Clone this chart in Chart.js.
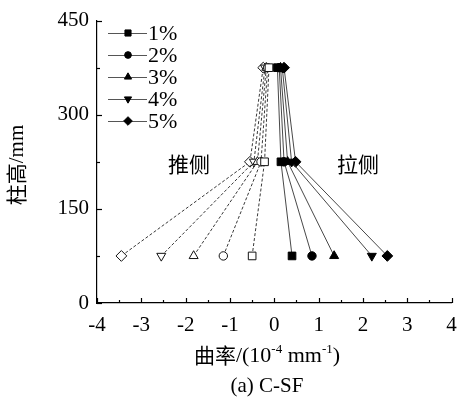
<!DOCTYPE html>
<html>
<head>
<meta charset="utf-8">
<script src="https://cdn.jsdelivr.net/npm/chart.js@4/dist/chart.umd.min.js"></script>
<style>
  html, body { margin: 0; padding: 0; background: #fff; }
  #wrap { width: 458px; height: 406px; position: relative; }
</style>
</head>
<body>
<div id="wrap"><canvas id="c" width="458" height="406"></canvas></div>
<script>
// Column heights (mm) at which curvature was measured
const heights = [75, 225, 375];

// Drift-ratio levels
const levels = ['1%', '2%', '3%', '4%', '5%'];

// Curvature on the pulled side (10^-4 mm^-1), ordered by height
const pull1 = [0.40, 0.15, 0.07];
const pull2 = [0.85, 0.22, 0.11];
const pull3 = [1.35, 0.30, 0.14];
const pull4 = [2.20, 0.39, 0.18];
const pull5 = [2.55, 0.48, 0.22];

// Curvature on the pushed side (10^-4 mm^-1), ordered by height
const push1 = [-0.50, -0.22, -0.12];
const push2 = [-1.15, -0.30, -0.15];
const push3 = [-1.82, -0.38, -0.18];
const push4 = [-2.55, -0.46, -0.21];
const push5 = [-3.45, -0.55, -0.25];

// Axis ticks
const xTicks = [-4, -3, -2, -1, 0, 1, 2, 3, 4];
const yTicks = [0, 150, 300, 450];

const pullSeries = [pull1, pull2, pull3, pull4, pull5];
const pushSeries = [push1, push2, push3, push4, push5];

const markerStyles = [
  { pointStyle: 'rect', radius: 5.4, rotation: 0 },
  { pointStyle: 'circle', radius: 4.2, rotation: 0 },
  { pointStyle: 'triangle', radius: 5.2, rotation: 0 },
  { pointStyle: 'triangle', radius: 5.2, rotation: 180 },
  { pointStyle: 'rectRot', radius: 5.4, rotation: 0 }
];

const SERIF = '"Liberation Serif", "Times New Roman", serif';
const CJK = '"Noto Sans CJK SC", sans-serif';

function toPoints(xs) {
  return xs.map((x, i) => ({ x: x, y: heights[i] }));
}

const datasets = [];
pushSeries.forEach((s, i) => {
  const m = markerStyles[i];
  datasets.push({
    label: levels[i] + ' push',
    data: toPoints(s),
    showLine: true,
    borderColor: '#222',
    borderWidth: 0.9,
    borderDash: [3, 2],
    pointStyle: m.pointStyle,
    pointRadius: m.radius,
    pointRotation: m.rotation,
    pointBackgroundColor: '#fff',
    pointBorderColor: '#111',
    pointBorderWidth: 1
  });
});
pullSeries.forEach((s, i) => {
  const m = markerStyles[i];
  datasets.push({
    label: levels[i],
    data: toPoints(s),
    showLine: true,
    borderColor: '#333',
    borderWidth: 0.9,
    pointStyle: m.pointStyle,
    pointRadius: m.radius,
    pointRotation: m.rotation,
    pointBackgroundColor: '#000',
    pointBorderColor: '#000',
    pointBorderWidth: 1
  });
});

// Inward major/minor ticks, legend, side labels and axis titles
const decorations = {
  id: 'decorations',
  afterDraw(chart) {
    const ctx = chart.ctx;
    const xs = chart.scales.x, ys = chart.scales.y;
    const area = chart.chartArea;
    ctx.save();
    ctx.strokeStyle = '#000';
    ctx.lineWidth = 1.2;
    // x ticks (major + minor), pointing up into the plot
    for (let v = -4; v <= 4.001; v += 0.5) {
      const px = Math.round(xs.getPixelForValue(v)) + 0.5;
      const len = Math.abs(v - Math.round(v)) < 1e-6 ? 5 : 3;
      ctx.beginPath();
      ctx.moveTo(px, area.bottom);
      ctx.lineTo(px, area.bottom - len);
      ctx.stroke();
    }
    // y ticks (major + minor), pointing right into the plot
    for (let v = 0; v <= 450.001; v += 75) {
      const py = Math.round(ys.getPixelForValue(v)) + 0.5;
      const len = (v % 150 === 0) ? 5 : 3;
      ctx.beginPath();
      ctx.moveTo(area.left, py);
      ctx.lineTo(area.left + len, py);
      ctx.stroke();
    }

    // Legend: line with centred marker, then label
    const lx0 = 108, lx1 = 147, mx = 128, tx = 148;
    const rows = [33, 55, 77, 99, 121];
    levels.forEach((lab, i) => {
      const y = rows[i];
      ctx.strokeStyle = '#555';
      ctx.lineWidth = 1;
      ctx.setLineDash([]);
      ctx.beginPath();
      ctx.moveTo(lx0, y + 0.5);
      ctx.lineTo(lx1, y + 0.5);
      ctx.stroke();
      const m = markerStyles[i];
      ctx.fillStyle = '#000';
      ctx.strokeStyle = '#000';
      Chart.helpers.drawPoint(ctx, {
        pointStyle: m.pointStyle, radius: m.radius * 0.8, rotation: m.rotation, borderWidth: 1
      }, mx, y);
      ctx.fillStyle = '#000';
      ctx.font = '22px ' + SERIF;
      ctx.textAlign = 'left';
      ctx.textBaseline = 'middle';
      ctx.fillText(lab, tx, y + 1);
    });

    // Side labels
    ctx.fillStyle = '#000';
    ctx.font = '21px ' + CJK;
    ctx.textAlign = 'center';
    ctx.textBaseline = 'middle';
    ctx.fillText('推侧', 189, 164);
    ctx.fillText('拉侧', 358, 164);

    // y-axis title (rotated)
    ctx.save();
    ctx.translate(16, 165);
    ctx.rotate(-Math.PI / 2);
    ctx.textAlign = 'left';
    const yt1 = '柱高', yt2 = '/mm';
    ctx.font = '21px ' + CJK;
    const w1 = ctx.measureText(yt1).width;
    ctx.font = '21px ' + SERIF;
    const w2 = ctx.measureText(yt2).width;
    let sx = -(w1 + w2) / 2;
    ctx.font = '21px ' + CJK;
    ctx.fillText(yt1, sx, 0);
    ctx.font = '21px ' + SERIF;
    ctx.fillText(yt2, sx + w1, 1);
    ctx.restore();

    // x-axis title with superscripts
    const parts = [
      { t: '曲率', f: '21px ' + CJK, dy: 0 },
      { t: '/(10', f: '22px ' + SERIF, dy: 1 },
      { t: '-4', f: '13px ' + SERIF, dy: -5 },
      { t: ' mm', f: '22px ' + SERIF, dy: 1 },
      { t: '-1', f: '13px ' + SERIF, dy: -5 },
      { t: ')', f: '22px ' + SERIF, dy: 1 }
    ];
    let total = 0;
    parts.forEach(p => { ctx.font = p.f; p.w = ctx.measureText(p.t).width; total += p.w; });
    let cx = 267 - total / 2;
    ctx.textAlign = 'left';
    ctx.textBaseline = 'middle';
    parts.forEach(p => { ctx.font = p.f; ctx.fillText(p.t, cx, 355 + p.dy); cx += p.w; });

    // caption
    ctx.font = '21px ' + SERIF;
    ctx.textAlign = 'center';
    ctx.fillText('(a) C-SF', 267, 386);
    ctx.restore();
  }
};

new Chart(document.getElementById('c'), {
  type: 'scatter',
  data: { datasets: datasets },
  options: {
    responsive: false,
    animation: false,
    devicePixelRatio: 1,
    layout: { padding: { top: 16, right: 0, left: 0, bottom: 0 } },
    plugins: { legend: { display: false }, tooltip: { enabled: false } },
    scales: {
      x: {
        type: 'linear',
        min: -4, max: 4,
        afterFit(scale) { scale.height = 103; scale.paddingRight = 3; },
        afterBuildTicks(scale) { scale.ticks = xTicks.map(v => ({ value: v })); },
        grid: { display: true, drawOnChartArea: false, drawTicks: false },
        border: { display: true, color: '#000', width: 1.2 },
        ticks: {
          color: '#000',
          padding: 10,
          font: { family: SERIF, size: 21 },
          callback: v => String(v)
        }
      },
      y: {
        type: 'linear',
        min: 0, max: 450,
        afterFit(scale) { scale.width = 97; },
        afterBuildTicks(scale) { scale.ticks = yTicks.map(v => ({ value: v })); },
        grid: { display: true, drawOnChartArea: false, drawTicks: false },
        border: { display: true, color: '#000', width: 1.2 },
        ticks: {
          color: '#000',
          padding: 8,
          font: { family: SERIF, size: 21 },
          callback: v => String(v)
        }
      }
    }
  },
  plugins: [decorations]
});
</script>
</body>
</html>
